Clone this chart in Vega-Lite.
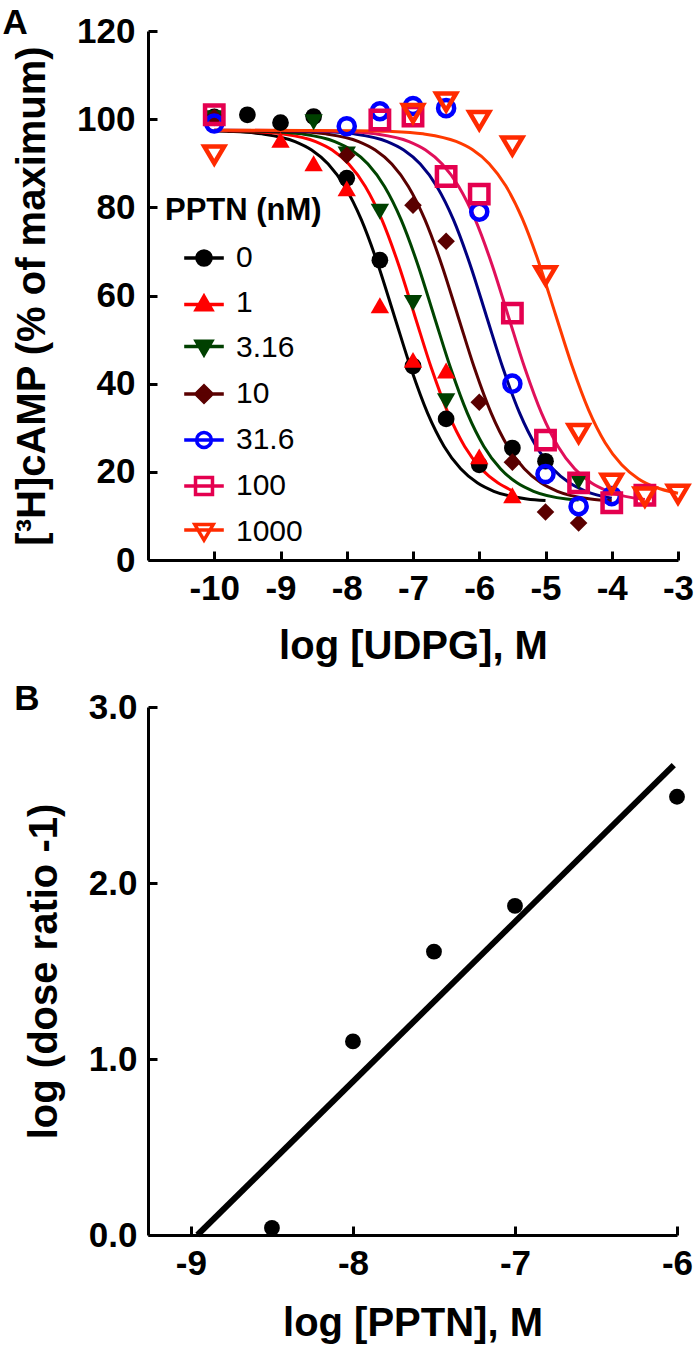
{
  "$schema": "https://vega.github.io/schema/vega-lite/v6.json",
  "padding": {"left": 2, "top": 6, "right": 2, "bottom": 4},
  "spacing": 16,
  "config": {
    "view": {"stroke": null},
    "font": "Liberation Sans",
    "axis": {
      "grid": false,
      "domainColor": "#000000",
      "domainWidth": 3,
      "tickColor": "#000000",
      "tickWidth": 3,
      "tickSize": -9,
      "labelFont": "Liberation Sans",
      "labelFontSize": 35,
      "labelFontWeight": "bold",
      "labelColor": "#000000",
      "labelOverlap": false,
      "labelBound": false,
      "labelFlush": false,
      "titleFont": "Liberation Sans",
      "titleFontSize": 40,
      "titleFontWeight": "bold",
      "titleColor": "#000000"
    },
    "legend": {
      "orient": "none", "legendX": 17, "legendY": 165,
      "titleFont": "Liberation Sans", "titleFontSize": 31, "titleFontWeight": "bold", "titleColor": "#000000", "titlePadding": 16,
      "labelFont": "Liberation Sans", "labelFontSize": 30, "labelColor": "#000000",
      "rowPadding": 15, "symbolSize": 200, "symbolStrokeWidth": 3.5, "symbolOffset": 24, "labelOffset": 17, "padding": 0
    }
  },
  "datasets": {
    "curves": [
      {"s": "0", "x": -10, "y": 97.35}, {"s": "0", "x": -9.78, "y": 97.23}, {"s": "0", "x": -9.28, "y": 96.66}, {"s": "0", "x": -8.78, "y": 94.91}, {"s": "0", "x": -8.53, "y": 93.0}, {"s": "0", "x": -8.28, "y": 89.82}, {"s": "0", "x": -8.03, "y": 84.73}, {"s": "0", "x": -7.78, "y": 77.2}, {"s": "0", "x": -7.53, "y": 67.1}, {"s": "0", "x": -7.28, "y": 55.25}, {"s": "0", "x": -7.03, "y": 43.42}, {"s": "0", "x": -6.78, "y": 33.3}, {"s": "0", "x": -6.53, "y": 25.76}, {"s": "0", "x": -6.28, "y": 20.68}, {"s": "0", "x": -6.03, "y": 17.5}, {"s": "0", "x": -5.78, "y": 15.59}, {"s": "0", "x": -5.28, "y": 13.84}, {"s": "0", "x": -5, "y": 13.5},
      {"s": "1", "x": -10, "y": 97.45}, {"s": "1", "x": -9.47, "y": 97.23}, {"s": "1", "x": -8.97, "y": 96.66}, {"s": "1", "x": -8.47, "y": 94.91}, {"s": "1", "x": -8.22, "y": 93.0}, {"s": "1", "x": -7.97, "y": 89.82}, {"s": "1", "x": -7.72, "y": 84.73}, {"s": "1", "x": -7.47, "y": 77.2}, {"s": "1", "x": -7.22, "y": 67.1}, {"s": "1", "x": -6.97, "y": 55.25}, {"s": "1", "x": -6.72, "y": 43.42}, {"s": "1", "x": -6.47, "y": 33.3}, {"s": "1", "x": -6.22, "y": 25.76}, {"s": "1", "x": -5.97, "y": 20.68}, {"s": "1", "x": -5.72, "y": 17.5}, {"s": "1", "x": -5.5, "y": 15.7},
      {"s": "3.16", "x": -10, "y": 97.45}, {"s": "3.16", "x": -9.18, "y": 97.23}, {"s": "3.16", "x": -8.68, "y": 96.66}, {"s": "3.16", "x": -8.18, "y": 94.91}, {"s": "3.16", "x": -7.93, "y": 93.0}, {"s": "3.16", "x": -7.68, "y": 89.82}, {"s": "3.16", "x": -7.43, "y": 84.73}, {"s": "3.16", "x": -7.18, "y": 77.2}, {"s": "3.16", "x": -6.93, "y": 67.1}, {"s": "3.16", "x": -6.68, "y": 55.25}, {"s": "3.16", "x": -6.43, "y": 43.42}, {"s": "3.16", "x": -6.18, "y": 33.3}, {"s": "3.16", "x": -5.93, "y": 25.76}, {"s": "3.16", "x": -5.68, "y": 20.68}, {"s": "3.16", "x": -5.43, "y": 17.5}, {"s": "3.16", "x": -5.18, "y": 15.59}, {"s": "3.16", "x": -4.68, "y": 13.84}, {"s": "3.16", "x": -4.5, "y": 13.6},
      {"s": "10", "x": -10, "y": 97.45}, {"s": "10", "x": -8.82, "y": 97.23}, {"s": "10", "x": -8.32, "y": 96.66}, {"s": "10", "x": -7.82, "y": 94.91}, {"s": "10", "x": -7.57, "y": 93.0}, {"s": "10", "x": -7.32, "y": 89.82}, {"s": "10", "x": -7.07, "y": 84.73}, {"s": "10", "x": -6.82, "y": 77.2}, {"s": "10", "x": -6.57, "y": 67.1}, {"s": "10", "x": -6.32, "y": 55.25}, {"s": "10", "x": -6.07, "y": 43.42}, {"s": "10", "x": -5.82, "y": 33.3}, {"s": "10", "x": -5.57, "y": 25.76}, {"s": "10", "x": -5.32, "y": 20.68}, {"s": "10", "x": -5.07, "y": 17.5}, {"s": "10", "x": -4.82, "y": 15.59}, {"s": "10", "x": -4.32, "y": 13.84}, {"s": "10", "x": -4, "y": 13.45},
      {"s": "31.6", "x": -10, "y": 97.5}, {"s": "31.6", "x": -8.89, "y": 97.4}, {"s": "31.6", "x": -8.39, "y": 97.23}, {"s": "31.6", "x": -7.89, "y": 96.66}, {"s": "31.6", "x": -7.39, "y": 94.91}, {"s": "31.6", "x": -7.14, "y": 93.0}, {"s": "31.6", "x": -6.89, "y": 89.82}, {"s": "31.6", "x": -6.64, "y": 84.73}, {"s": "31.6", "x": -6.39, "y": 77.2}, {"s": "31.6", "x": -6.14, "y": 67.1}, {"s": "31.6", "x": -5.89, "y": 55.25}, {"s": "31.6", "x": -5.64, "y": 43.42}, {"s": "31.6", "x": -5.39, "y": 33.3}, {"s": "31.6", "x": -5.14, "y": 25.76}, {"s": "31.6", "x": -4.89, "y": 20.68}, {"s": "31.6", "x": -4.64, "y": 17.5}, {"s": "31.6", "x": -4.39, "y": 15.59}, {"s": "31.6", "x": -4, "y": 14.0},
      {"s": "100", "x": -10, "y": 97.5}, {"s": "100", "x": -8.56, "y": 97.4}, {"s": "100", "x": -8.06, "y": 97.23}, {"s": "100", "x": -7.56, "y": 96.66}, {"s": "100", "x": -7.06, "y": 94.91}, {"s": "100", "x": -6.81, "y": 93.0}, {"s": "100", "x": -6.56, "y": 89.82}, {"s": "100", "x": -6.31, "y": 84.73}, {"s": "100", "x": -6.06, "y": 77.2}, {"s": "100", "x": -5.81, "y": 67.1}, {"s": "100", "x": -5.56, "y": 55.25}, {"s": "100", "x": -5.31, "y": 43.42}, {"s": "100", "x": -5.06, "y": 33.3}, {"s": "100", "x": -4.81, "y": 25.76}, {"s": "100", "x": -4.56, "y": 20.68}, {"s": "100", "x": -4.31, "y": 17.5}, {"s": "100", "x": -4.06, "y": 15.59}, {"s": "100", "x": -3.5, "y": 13.75},
      {"s": "1000", "x": -10, "y": 97.5}, {"s": "1000", "x": -7.85, "y": 97.4}, {"s": "1000", "x": -7.35, "y": 97.24}, {"s": "1000", "x": -6.85, "y": 96.67}, {"s": "1000", "x": -6.35, "y": 94.94}, {"s": "1000", "x": -6.1, "y": 93.06}, {"s": "1000", "x": -5.85, "y": 89.91}, {"s": "1000", "x": -5.6, "y": 84.88}, {"s": "1000", "x": -5.35, "y": 77.45}, {"s": "1000", "x": -5.1, "y": 67.45}, {"s": "1000", "x": -4.85, "y": 55.75}, {"s": "1000", "x": -4.6, "y": 44.06}, {"s": "1000", "x": -4.35, "y": 34.06}, {"s": "1000", "x": -4.1, "y": 26.61}, {"s": "1000", "x": -3.85, "y": 21.59}, {"s": "1000", "x": -3.6, "y": 18.45}, {"s": "1000", "x": -3.35, "y": 16.56}, {"s": "1000", "x": -3, "y": 15.16}
    ],
    "points": [
      {"s": "0", "x": -10, "y": 100.5}, {"s": "0", "x": -9.5, "y": 101}, {"s": "0", "x": -9, "y": 99.2}, {"s": "0", "x": -8.5, "y": 100.6}, {"s": "0", "x": -8, "y": 86.6}, {"s": "0", "x": -7.5, "y": 68}, {"s": "0", "x": -7, "y": 44}, {"s": "0", "x": -6.5, "y": 32}, {"s": "0", "x": -6, "y": 21.6}, {"s": "0", "x": -5.5, "y": 25.4}, {"s": "0", "x": -5, "y": 22.4},
      {"s": "1", "x": -10, "y": 100.3}, {"s": "1", "x": -9, "y": 95.3}, {"s": "1", "x": -8.5, "y": 90}, {"s": "1", "x": -8, "y": 84.3}, {"s": "1", "x": -7.5, "y": 57.8}, {"s": "1", "x": -7, "y": 45.4}, {"s": "1", "x": -6.5, "y": 43}, {"s": "1", "x": -6, "y": 23.5}, {"s": "1", "x": -5.5, "y": 14.7},
      {"s": "3.16", "x": -10, "y": 100.2}, {"s": "3.16", "x": -8.5, "y": 99.3}, {"s": "3.16", "x": -8, "y": 92}, {"s": "3.16", "x": -7.5, "y": 79}, {"s": "3.16", "x": -7, "y": 58.3}, {"s": "3.16", "x": -6.5, "y": 36}, {"s": "3.16", "x": -4.5, "y": 17.8},
      {"s": "10", "x": -10, "y": 100.4}, {"s": "10", "x": -8, "y": 91.8}, {"s": "10", "x": -7, "y": 80.5}, {"s": "10", "x": -6.5, "y": 72.3}, {"s": "10", "x": -6, "y": 35.8}, {"s": "10", "x": -5.5, "y": 22.2}, {"s": "10", "x": -5, "y": 10.9}, {"s": "10", "x": -4.5, "y": 8.4},
      {"s": "31.6", "x": -10, "y": 99}, {"s": "31.6", "x": -8, "y": 98.4}, {"s": "31.6", "x": -7.5, "y": 101.8}, {"s": "31.6", "x": -7, "y": 103}, {"s": "31.6", "x": -6.5, "y": 102.5}, {"s": "31.6", "x": -6, "y": 79}, {"s": "31.6", "x": -5.5, "y": 40}, {"s": "31.6", "x": -5, "y": 19.5}, {"s": "31.6", "x": -4.5, "y": 12.2}, {"s": "31.6", "x": -4, "y": 14.5},
      {"s": "100", "x": -10, "y": 101}, {"s": "100", "x": -7.5, "y": 99.8}, {"s": "100", "x": -7, "y": 100.7}, {"s": "100", "x": -6.5, "y": 87}, {"s": "100", "x": -6, "y": 83}, {"s": "100", "x": -5.5, "y": 56}, {"s": "100", "x": -5, "y": 27.2}, {"s": "100", "x": -4.5, "y": 17.5}, {"s": "100", "x": -4, "y": 13}, {"s": "100", "x": -3.5, "y": 14.7},
      {"s": "1000", "x": -10, "y": 92}, {"s": "1000", "x": -7, "y": 101.4}, {"s": "1000", "x": -6.5, "y": 104}, {"s": "1000", "x": -6, "y": 99.8}, {"s": "1000", "x": -5.5, "y": 94}, {"s": "1000", "x": -5, "y": 64.6}, {"s": "1000", "x": -4.5, "y": 28.8}, {"s": "1000", "x": -4, "y": 17.5}, {"s": "1000", "x": -3.5, "y": 14.4}, {"s": "1000", "x": -3, "y": 15}
    ],
    "schild": [
      {"x": -8.5, "y": 0.04}, {"x": -8, "y": 1.1}, {"x": -7.5, "y": 1.61}, {"x": -7, "y": 1.87}, {"x": -6, "y": 2.49}
    ],
    "fit": [
      {"x": -8.96, "y": 0}, {"x": -6.02, "y": 2.67}
    ]
  },
  "vconcat": [
    {
      "title": {"text": "A", "anchor": "start", "frame": "bounds", "fontSize": 35, "fontWeight": "bold", "font": "Liberation Sans", "color": "#000000", "offset": -27, "dx": -10},
      "width": 530,
      "height": 529,
      "encoding": {
        "x": {"field": "x", "type": "quantitative", "scale": {"domain": [-11, -3], "nice": false, "zero": false},
          "axis": {"values": [-10, -9, -8, -7, -6, -5, -4, -3], "labelExpr": "'' + datum.value", "labelPadding": 20, "title": "log [UDPG], M", "titlePadding": 20}},
        "y": {"field": "y", "type": "quantitative", "scale": {"domain": [0, 120], "nice": false, "zero": false},
          "axis": {"values": [0, 20, 40, 60, 80, 100, 120], "labelPadding": 22, "title": "[³H]cAMP (% of maximum)", "titlePadding": 24}}
      },
      "layer": [
        {
          "data": {"name": "curves"},
          "mark": {"type": "line", "strokeWidth": 3, "interpolate": "monotone"},
          "encoding": {
            "color": {"field": "s", "type": "nominal", "legend": null,
              "scale": {"domain": ["1000", "100", "31.6", "10", "3.16", "1", "0"], "range": ["#FF3A00", "#E0105A", "#000080", "#5A0000", "#004400", "#FF0000", "#000000"]}}
          }
        },
        {
          "data": {"name": "points"},
          "transform": [{"filter": {"field": "s", "equal": "0"}}],
          "mark": {"type": "point", "shape": "circle", "filled": true, "color": "#000000", "size": 280, "opacity": 1}
        },
        {
          "data": {"name": "points"},
          "transform": [{"filter": {"field": "s", "equal": "1"}}],
          "mark": {"type": "point", "shape": "M0,-0.95L1.1,0.95L-1.1,0.95Z", "filled": true, "color": "#FF0000", "size": 280, "opacity": 1}
        },
        {
          "data": {"name": "points"},
          "transform": [{"filter": {"field": "s", "equal": "3.16"}}],
          "mark": {"type": "point", "shape": "M0,0.95L1.1,-0.95L-1.1,-0.95Z", "filled": true, "color": "#004000", "size": 280, "opacity": 1}
        },
        {
          "data": {"name": "points"},
          "transform": [{"filter": {"field": "s", "equal": "10"}}],
          "mark": {"type": "point", "shape": "M0,-1.05L1.05,0L0,1.05L-1.05,0Z", "filled": true, "color": "#5A0000", "size": 280, "opacity": 1}
        },
        {
          "data": {"name": "points"},
          "transform": [{"filter": {"field": "s", "equal": "31.6"}}],
          "mark": {"type": "point", "shape": "M-1.05,0A1.05,1.05,0,1,1,1.05,0A1.05,1.05,0,1,1,-1.05,0Z", "filled": false, "color": "#0000FF", "strokeWidth": 4.5, "size": 235, "opacity": 1}
        },
        {
          "data": {"name": "points"},
          "transform": [{"filter": {"field": "s", "equal": "100"}}],
          "mark": {"type": "point", "shape": "M-1.2,-1.2H1.2V1.2H-1.2Z", "filled": false, "color": "#E4004F", "strokeWidth": 4.5, "size": 235, "opacity": 1}
        },
        {
          "data": {"name": "points"},
          "transform": [{"filter": {"field": "s", "equal": "1000"}}],
          "mark": {"type": "point", "shape": "M0,1.15L1.3,-1.05L-1.3,-1.05Z", "filled": false, "color": "#FF2A00", "strokeWidth": 4.5, "size": 235, "opacity": 1}
        },
        {
          "data": {"name": "points"},
          "transform": [{"filter": "false"}],
          "mark": {"type": "point", "size": 200, "strokeWidth": 3.5, "opacity": 1},
          "encoding": {
            "shape": {"field": "s", "type": "nominal", "title": "PPTN (nM)",
              "scale": {"domain": ["0", "1", "3.16", "10", "31.6", "100", "1000"],
                "range": [
                  "M-1,0A1,1,0,1,1,1,0A1,1,0,1,1,-1,0Z M-2.8,0H2.8",
                  "M0,-0.95L1.1,0.95L-1.1,0.95Z M-2.8,0.2H2.8",
                  "M0,0.95L1.1,-0.95L-1.1,-0.95Z M-2.8,-0.2H2.8",
                  "M0,-1.15L1.15,0L0,1.15L-1.15,0Z M-2.8,0H2.8",
                  "M-1.05,0A1.05,1.05,0,1,1,1.05,0A1.05,1.05,0,1,1,-1.05,0Z M-2.8,0H2.8",
                  "M-1.2,-1.2H1.2V1.2H-1.2Z M-2.8,0H2.8",
                  "M0,1.15L1.3,-1.05L-1.3,-1.05Z M-2.8,-0.3H2.8"]},
              "legend": {"title": "PPTN (nM)"}},
            "stroke": {"field": "s", "type": "nominal", "title": "PPTN (nM)",
              "scale": {"domain": ["0", "1", "3.16", "10", "31.6", "100", "1000"], "range": ["#000000", "#FF0000", "#004000", "#5A0000", "#0000FF", "#E4004F", "#FF2A00"]},
              "legend": {"title": "PPTN (nM)"}},
            "fill": {"field": "s", "type": "nominal", "title": "PPTN (nM)",
              "scale": {"domain": ["0", "1", "3.16", "10", "31.6", "100", "1000"], "range": ["#000000", "#FF0000", "#004000", "#5A0000", "transparent", "transparent", "transparent"]},
              "legend": {"title": "PPTN (nM)"}}
          }
        }
      ]
    },
    {
      "title": {"text": "B", "anchor": "start", "frame": "bounds", "fontSize": 35, "fontWeight": "bold", "font": "Liberation Sans", "color": "#000000", "offset": -27, "dx": -10},
      "width": 529,
      "height": 528,
      "layer": [
        {
          "data": {"name": "fit"},
          "mark": {"type": "line", "strokeWidth": 6, "color": "#000000"},
          "encoding": {
            "x": {"field": "x", "type": "quantitative", "scale": {"domain": [-9.265, -6], "nice": false, "zero": false},
              "axis": {"values": [-9, -8, -7, -6], "labelExpr": "'' + datum.value", "labelPadding": 20, "title": "log [PPTN], M", "titlePadding": 22}},
            "y": {"field": "y", "type": "quantitative", "scale": {"domain": [0, 3], "nice": false, "zero": false},
              "axis": {"values": [0, 1, 2, 3], "labelExpr": "format(datum.value, '.1f')", "labelPadding": 20, "title": "log (dose ratio -1)", "titlePadding": 24}}
          }
        },
        {
          "data": {"name": "schild"},
          "mark": {"type": "circle", "size": 250, "color": "#000000", "opacity": 1},
          "encoding": {
            "x": {"field": "x", "type": "quantitative"},
            "y": {"field": "y", "type": "quantitative"}
          }
        }
      ]
    }
  ]
}
